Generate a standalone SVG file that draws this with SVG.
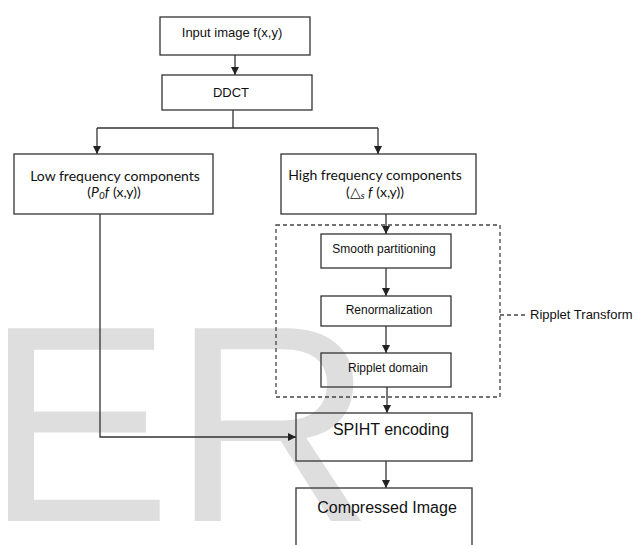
<svg xmlns="http://www.w3.org/2000/svg" width="636" height="545" viewBox="0 0 636 545">
<defs>
<marker id="arr" markerWidth="8" markerHeight="8" refX="8" refY="4" orient="auto" markerUnits="userSpaceOnUse">
<path d="M0,0 L8,4 L0,8 Z" fill="#222"/>
</marker>
<style>
.box{fill:none;stroke:#333;stroke-width:1.3}
.ln{fill:none;stroke:#333;stroke-width:1.3}
.dash{fill:none;stroke:#444;stroke-width:1.3;stroke-dasharray:4,3}
.h{font-family:"Liberation Sans",Arial,sans-serif;fill:#111;text-anchor:middle}
.c{font-family:Lato,"Open Sans",sans-serif;fill:#111;text-anchor:middle;font-size:14px}
.wm{font-family:"Liberation Sans",Arial,sans-serif;font-size:280px;fill:#dedede}
</style>
</defs>
<rect width="636" height="545" fill="#fff"/>
<text class="wm" x="-15" y="521">ER</text>
<g id="connectors">
<path class="ln" d="M235,55 V75" marker-end="url(#arr)"/>
<path class="ln" d="M233,110 V128 M97,128 H378"/>
<path class="ln" d="M97,128 V154" marker-end="url(#arr)"/>
<path class="ln" d="M378,128 V154" marker-end="url(#arr)"/>
<path class="ln" d="M386,214 V234" marker-end="url(#arr)"/>
<path class="ln" d="M386,268 V296" marker-end="url(#arr)"/>
<path class="ln" d="M386,326 V353" marker-end="url(#arr)"/>
<path class="ln" d="M387,387 V413" marker-end="url(#arr)"/>
<path class="ln" d="M386,461 V488" marker-end="url(#arr)"/>
<path class="ln" d="M100,214 V437 H296" marker-end="url(#arr)"/>
<path class="dash" d="M500,315 H527"/>
</g>
<g id="input"><rect class="box" x="160" y="17" width="150" height="38"/><text class="h" x="232" y="37" font-size="13">Input image f(x,y)</text></g>
<g id="ddct"><rect class="box" x="162" y="75" width="150" height="35"/><text class="h" x="231" y="97" font-size="13">DDCT</text></g>
<g id="low"><rect class="box" x="14" y="154" width="199" height="60"/><text class="c" x="115" y="181">Low frequency components</text><text class="c" x="114" y="197">(<tspan font-style="italic">P</tspan><tspan font-style="italic" font-size="10" dy="2">0</tspan><tspan font-style="italic" dy="-2">f</tspan> (x,y))</text></g>
<g id="high"><rect class="box" x="281" y="154" width="195" height="60"/><text class="c" x="375" y="180">High frequency components</text><text class="c" x="375" y="197">(△<tspan font-style="italic" font-size="10" dy="2">s</tspan><tspan dy="-2" font-style="italic"> f</tspan> (x,y))</text></g>
<g id="ripplet-transform"><rect class="dash" x="276" y="225" width="224" height="172"/><text class="h" x="530" y="319" font-size="13" text-anchor="start" style="text-anchor:start">Ripplet Transform</text></g>
<g id="smooth"><rect class="box" x="321" y="234" width="130" height="34"/><text class="h" x="384" y="253" font-size="12">Smooth partitioning</text></g>
<g id="renorm"><rect class="box" x="321" y="296" width="130" height="30"/><text class="h" x="389" y="314" font-size="12">Renormalization</text></g>
<g id="ripplet"><rect class="box" x="321" y="353" width="130" height="34"/><text class="h" x="388" y="372" font-size="12">Ripplet domain</text></g>
<g id="spiht"><rect class="box" x="296" y="413" width="176" height="48"/><text class="h" x="391" y="435" font-size="16">SPIHT encoding</text></g>
<g id="compressed"><rect class="box" x="296" y="488" width="176" height="70"/><text class="h" x="387" y="513" font-size="16">Compressed Image</text></g>
</svg>
